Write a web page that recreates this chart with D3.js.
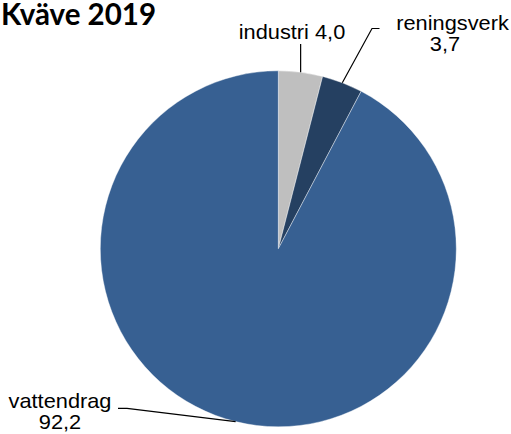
<!DOCTYPE html>
<html>
<head>
<meta charset="utf-8">
<script src="https://cdn.jsdelivr.net/npm/d3@7/dist/d3.min.js"></script>
<style>
  html, body { margin: 0; padding: 0; background: #fff; }
  svg { display: block; }
</style>
</head>
<body>
<script>
// Kväve 2019 – andel per källa
const categories = ["industri", "reningsverk", "vattendrag"];
const values = [4.0, 3.7, 92.2];
const valueLabels = ["4,0", "3,7", "92,2"];
const colors = ["#bfbfbf", "#254061", "#376092"];

const width = 511, height = 434;
const cx = 278.3, cy = 248.8, radius = 178;

const svg = d3.select("body").append("svg")
  .attr("width", width).attr("height", height);

svg.append("text")
  .attr("x", 1).attr("y", 24.5)
  .attr("font-family", "Lato, 'Open Sans', sans-serif")
  .attr("font-weight", "bold")
  .attr("font-size", 29.5)
  .attr("fill", "#000")
  .text("Kväve 2019");

const pie = d3.pie().sort(null).value(d => d.v);
const data = categories.map((c, i) => ({ c, v: values[i], label: valueLabels[i], color: colors[i] }));
const arcs = pie(data);

const arc = d3.arc().innerRadius(0).outerRadius(radius);
const g = svg.append("g").attr("transform", `translate(${cx},${cy})`);

g.selectAll("path.slice").data(arcs).enter().append("path")
  .attr("class", "slice")
  .attr("d", arc)
  .attr("fill", d => d.data.color)
  .attr("stroke", "#ffffff")
  .attr("stroke-width", 0.4);

// point on the rim at each slice's mid angle
const rim = d => {
  const a = (d.startAngle + d.endAngle) / 2;
  return [Math.sin(a) * radius, -Math.cos(a) * radius];
};

const font = "'Liberation Sans', Arial, sans-serif";
const fs = 20;
const sx = 1.09;

function label(x, y, txt, anchor) {
  svg.append("text")
    .attr("transform", `translate(${x},${y}) scale(${sx},1)`)
    .attr("text-anchor", anchor)
    .attr("font-family", font)
    .attr("font-size", fs)
    .attr("fill", "#000")
    .text(txt);
}

const lineAt = (pts) => svg.append("path")
  .attr("d", d3.line()(pts))
  .attr("fill", "none")
  .attr("stroke", "#000")
  .attr("stroke-width", 1.2);

// industri
{
  const [x, y] = rim(arcs[0]);
  lineAt([[cx + x, cy + y], [cx + x, 44]]);
  label(292, 38.5, `${arcs[0].data.c} ${arcs[0].data.label}`, "middle");
}
// reningsverk
{
  const [x, y] = rim(arcs[1]);
  lineAt([[cx + x, cy + y], [372, 28.5], [379.5, 28.5]]);
  label(452.5, 30, arcs[1].data.c, "middle");
  label(445, 50.5, arcs[1].data.label, "middle");
}
// vattendrag
{
  const [x, y] = rim(arcs[2]);
  lineAt([[cx + x, cy + y], [127, 408.3], [118, 408.3]]);
  label(60, 407.5, arcs[2].data.c, "middle");
  label(60, 429, arcs[2].data.label, "middle");
}
</script>
</body>
</html>
